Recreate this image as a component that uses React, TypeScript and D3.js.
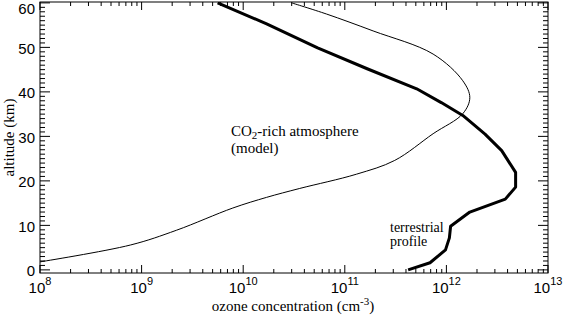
import React from 'react';
import * as d3 from 'd3';

// CO2-rich atmosphere model (thin line): altitude (km) and ozone (cm^-3)
const modelAlt = [1.8, 5.6, 8.9, 13.9, 16.3, 18.3, 21.5, 24.6, 30.6, 35.1, 38.7, 42.5, 48.5, 53.7, 57.5, 60];
const modelOzone = [1.0e8, 7.8e8, 2.2e9, 7.9e9, 1.7e10, 3.6e10, 1.3e11, 3.1e11, 7.4e11, 1.45e12, 1.7e12, 1.45e12, 7.4e11, 1.9e11, 6.6e10, 3.0e10];

// terrestrial profile (thick line)
const earthAlt = [0, 1.6, 4.5, 7.2, 9.8, 13.0, 15.9, 18.6, 21.9, 26.8, 30.5, 34.7, 37.6, 40.7, 45.2, 49.9, 55.3, 60];
const earthOzone = [4.2e11, 6.9e11, 9.8e11, 1.07e12, 1.1e12, 1.7e12, 3.8e12, 4.8e12, 4.8e12, 3.5e12, 2.4e12, 1.45e12, 8.9e11, 5.1e11, 1.66e11, 5.4e10, 1.7e10, 5.6e9];

const xDecades = [8, 9, 10, 11, 12, 13];
const yMajor = [0, 10, 20, 30, 40, 50, 60];

const W = 565;
const H = 316;
const left = 40;
const right = 548;
const top = 2;
const bottom = 273;

export default function App() {
  const x = d3.scaleLog().domain([1e8, 1e13]).range([left, right]);
  const y = d3.scaleLinear().domain([-0.7, 60.2]).range([bottom, top]);

  const modelPts: [number, number][] = modelOzone.map((v, i) => [v, modelAlt[i]]);
  const earthPts: [number, number][] = earthOzone.map((v, i) => [v, earthAlt[i]]);

  const thinPath = d3.line<[number, number]>()
    .x(d => x(d[0]))
    .y(d => y(d[1]))
    .curve(d3.curveCatmullRom.alpha(0.5))(modelPts) || '';
  const thickPath = d3.line<[number, number]>()
    .x(d => x(d[0]))
    .y(d => y(d[1]))(earthPts) || '';

  const xMinor: number[] = [];
  xDecades.slice(0, -1).forEach(e => {
    for (let k = 2; k <= 9; k++) xMinor.push(k * Math.pow(10, e));
  });
  const yMinor = d3.range(0, 61).filter(v => v % 10 !== 0);

  const tickFont = 'Liberation Sans, Arial, sans-serif';
  const serif = 'Liberation Serif, DejaVu Serif, serif';

  return (
    <svg width={W} height={H} style={{ position: 'absolute', left: 0, top: 0, background: '#fff' }}>
      <defs>
        <clipPath id="plot">
          <rect x={left} y={top} width={right - left} height={bottom - top} />
        </clipPath>
      </defs>

      {/* frame */}
      <rect x={left} y={top} width={right - left} height={bottom - top} fill="none" stroke="#000" strokeWidth={1} />

      {/* x ticks, bottom & top */}
      {xDecades.map(e => {
        const px = x(Math.pow(10, e));
        return (
          <g key={'xm' + e} stroke="#000">
            <line x1={px} x2={px} y1={bottom} y2={bottom - 8} />
            <line x1={px} x2={px} y1={top} y2={top + 8} />
          </g>
        );
      })}
      {xMinor.map((v, i) => {
        const px = x(v);
        return (
          <g key={'xn' + i} stroke="#000">
            <line x1={px} x2={px} y1={bottom} y2={bottom - 4} />
            <line x1={px} x2={px} y1={top} y2={top + 4} />
          </g>
        );
      })}

      {/* y ticks, left & right */}
      {yMajor.map(v => (
        <g key={'ym' + v} stroke="#000">
          <line x1={left} x2={left + 10} y1={y(v)} y2={y(v)} />
          <line x1={right} x2={right - 10} y1={y(v)} y2={y(v)} />
        </g>
      ))}
      {yMinor.map(v => (
        <g key={'yn' + v} stroke="#000">
          <line x1={left} x2={left + 5} y1={y(v)} y2={y(v)} />
          <line x1={right} x2={right - 5} y1={y(v)} y2={y(v)} />
        </g>
      ))}

      {/* tick labels */}
      {yMajor.map(v => (
        <text key={'yl' + v} x={35} y={Math.max(y(v) + 1, 8.8)} dy="0.36em" textAnchor="end"
          fontFamily={tickFont} fontSize={15} fill="#000">{v}</text>
      ))}
      {xDecades.map(e => (
        <text key={'xl' + e} x={x(Math.pow(10, e))} y={293} textAnchor="middle"
          fontFamily={tickFont} fontSize={15} fill="#000">
          10<tspan dy={-8} fontSize={11}>{e}</tspan>
        </text>
      ))}

      {/* curves */}
      <g clipPath="url(#plot)" fill="none" stroke="#000">
        <path d={thinPath} strokeWidth={1} />
        <path d={thickPath} strokeWidth={3} strokeLinejoin="round" />
      </g>

      {/* annotations */}
      <text x={231} y={136} fontFamily={serif} fontSize={15} fill="#000">
        CO<tspan dy={3} fontSize={11}>2</tspan><tspan dy={-3}>-rich atmosphere</tspan>
      </text>
      <text x={231} y={153} fontFamily={serif} fontSize={15} fill="#000">(model)</text>
      <text x={390} y={232} fontFamily={serif} fontSize={14} fill="#000">terrestrial</text>
      <text x={390} y={246} fontFamily={serif} fontSize={14} fill="#000">profile</text>

      {/* axis titles */}
      <text transform={`translate(14,${(top + bottom) / 2}) rotate(-90)`} textAnchor="middle"
        fontFamily={serif} fontSize={15} fill="#000">altitude (km)</text>
      <text x={293} y={311} textAnchor="middle" fontFamily={serif} fontSize={15} fill="#000">
        ozone concentration (cm<tspan dy={-6} fontSize={11}>-3</tspan><tspan dy={6}>)</tspan>
      </text>
    </svg>
  );
}
